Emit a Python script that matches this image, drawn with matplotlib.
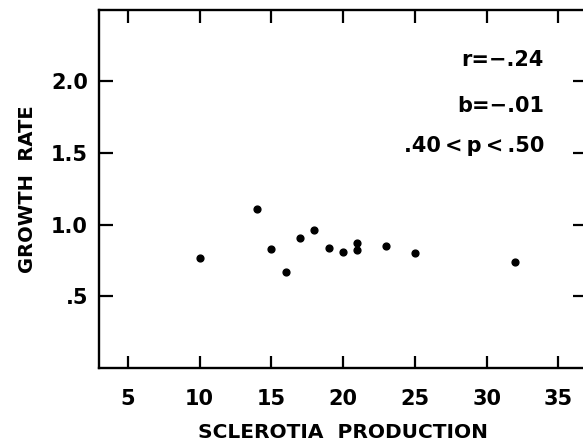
import matplotlib
matplotlib.use("Agg")
import matplotlib.pyplot as plt

# data
sclerotia = [10, 14, 15, 16, 17, 18, 19, 20, 21, 21, 23, 25, 32]
growth = [0.77, 1.11, 0.83, 0.67, 0.91, 0.96, 0.84, 0.81, 0.87, 0.82, 0.85, 0.80, 0.74]

x_ticks = [5, 10, 15, 20, 25, 30, 35]
x_labels = ["5", "10", "15", "20", "25", "30", "35"]
y_ticks = [0.5, 1.0, 1.5, 2.0]
y_labels = [".5", "1.0", "1.5", "2.0"]
stats = ["r=\u2212.24", "b=\u2212.01", ".40\u2009<\u2009p\u2009<\u2009.50"]
stats_y = [2.15, 1.83, 1.55]

plt.rcParams['font.family'] = ['DejaVu Sans']
plt.rcParams['font.weight'] = 'bold'
plt.rcParams['axes.labelweight'] = 'bold'

fig = plt.figure(figsize=(5.83, 4.42), dpi=100)
ax = fig.add_axes([0.170, 0.1674, 0.837, 0.811])

ax.scatter(sclerotia, growth, s=24, color="black", zorder=3)

ax.set_xlim(3, 37)
ax.set_ylim(0, 2.5)
ax.set_xticks(x_ticks)
ax.set_xticklabels(x_labels)
ax.set_yticks(y_ticks)
ax.set_yticklabels(y_labels)

ax.tick_params(axis="x", direction="in", length=9, width=1.6, pad=15,
               top=True, labelsize=15)
ax.tick_params(axis="y", direction="in", length=10, width=1.6, pad=8,
               right=True, labelsize=15)
for s in ax.spines.values():
    s.set_linewidth(1.7)

ax.set_xlabel("SCLEROTIA  PRODUCTION", fontsize=14.5, labelpad=10)
ax.set_ylabel("GROWTH  RATE", fontsize=14, labelpad=10)

for txt, yy in zip(stats, stats_y):
    ax.text(34, yy, txt, ha="right", va="center", fontsize=15)

fig.savefig("out.png", dpi=100)
